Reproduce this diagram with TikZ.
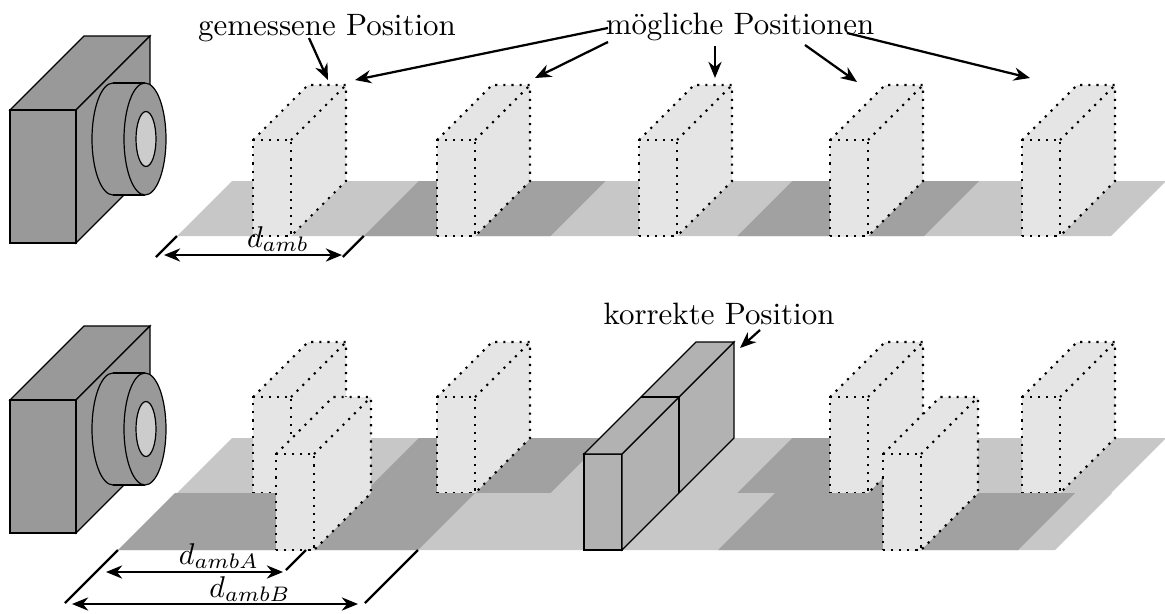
\documentclass[tikz,border=0pt]{standalone}
\usetikzlibrary{arrows.meta}

\definecolor{camgray}{gray}{0.6}
\definecolor{lensgray}{gray}{0.8}
\definecolor{floorlight}{gray}{0.78}
\definecolor{floordark}{gray}{0.63}
\definecolor{ghost}{gray}{0.9}
\definecolor{truebox}{gray}{0.7}

% camera body with lens; #1 = vertical offset
\newcommand\drawcamera[1]{%
  \begin{scope}[shift={(0,#1)}]
    \filldraw[fill=camgray] (10,110) -- (84,36) -- (150,36) -- (76,110) -- cycle;
    \filldraw[fill=camgray] (76,110) -- (150,36) -- (150,169) -- (76,243) -- cycle;
    \filldraw[fill=camgray] (10,110) rectangle (76,243);
    \filldraw[fill=camgray] (113,139) ellipse [x radius=21, y radius=56];
    \fill[camgray] (113,83) rectangle (145,195);
    \draw (113,83) -- (145,83) (113,195) -- (145,195);
    \filldraw[fill=camgray] (145,139) ellipse [x radius=21, y radius=56];
    \filldraw[fill=lensgray] (146,139) ellipse [x radius=10, y radius=27.5];
  \end{scope}}

% striped ground strip behind the line y=#1
\newcommand\backfloor[1]{%
  \fill[floorlight] (177,#1) -- (1111,#1) -- (1165,{#1-54}) -- (1165,{#1-55}) -- (232,{#1-55}) -- cycle;
  \foreach \a in {363.8,737.4}{%
    \fill[floordark] (\a,#1) -- ({\a+186.8},#1) -- ({\a+241.8},{#1-55}) -- ({\a+55},{#1-55}) -- cycle;}}

% dotted candidate block: #1 = left x, #2 = bottom y, #3 = depth
\newcommand\ghostblock[3]{%
  \fill[ghost] (#1,#2) -- ++(38,0) -- ++(#3,-#3) -- ++(0,-96) -- ++(-38,0) -- ++(-#3,#3) -- cycle;
  \draw[ghostedge] (#1,#2) -- ++(38,0) -- ++(0,-96) -- ++(-38,0) -- cycle;
  \draw[ghostedge] (#1,{#2-96}) -- ++(#3,-#3) -- ++(38,0) -- ++(0,96) -- ++(-#3,#3);
  \draw[ghostedge] ({#1+38},{#2-96}) -- ++(#3,-#3);}

\begin{document}
\begin{tikzpicture}[x=0.3333pt,y=-0.3333pt,
  ghostedge/.style={line width=0.7pt,dotted},
  pointer/.style={-{Stealth[length=5.4pt,width=4.4pt]},line width=0.75pt},
  measure/.style={{Stealth[length=5.4pt,width=4.4pt]}-{Stealth[length=5.4pt,width=4.4pt]},line width=0.75pt},
  dimtick/.style={line width=0.75pt},
  lbl/.style={inner sep=0pt,anchor=base,font=\fontsize{10.3}{12}\selectfont}]
\useasboundingbox (0,0) rectangle (1165,613);

% ---------- upper scene ----------
\drawcamera{0}
\backfloor{236}
\foreach \x in {253,437,639,830,1022}{\ghostblock{\x}{236}{55}}

\node[lbl] (gem) at (327,35) {gemessene Position};
\node[lbl] (moeg) at (740,34) {mögliche Positionen};
\coordinate (gemS) at (309,38);  \coordinate (gemT) at (328,80);
\coordinate (m1S) at (608,28);   \coordinate (m1T) at (355,80);
\coordinate (m2S) at (608,42);   \coordinate (m2T) at (535,78);
\coordinate (m3S) at (715,46);   \coordinate (m3T) at (715,78);
\coordinate (m4S) at (805,45);   \coordinate (m4T) at (857,82);
\coordinate (m5S) at (847,33);   \coordinate (m5T) at (1030,78);
\draw[pointer] (gemS) -- (gemT);
\foreach \i in {1,...,5}{\draw[pointer] (m\i S) -- (m\i T);}

% ambiguity distance
\coordinate (a0) at (177,236);  \coordinate (a0e) at (156,257);
\coordinate (a1) at (363.8,236); \coordinate (a1e) at (342.8,257);
\draw[dimtick] (a0) -- (a0e);
\draw[dimtick] (a1) -- (a1e);
\coordinate (da0) at (164,255); \coordinate (da1) at (342,255);
\draw[measure] (da0) -- (da1);
\node[lbl] (damb) at (278,247) {$d_{amb}$};

% ---------- lower scene ----------
\drawcamera{290}
\backfloor{493}
\foreach \x in {253,437,830,1022}{\ghostblock{\x}{493}{55}}

% front strip
\fill[floorlight] (118,550) -- (1055,550) -- (1112,493) -- (175,493) -- cycle;
\fill[floordark] (118,550) -- (418,550) -- (475,493) -- (175,493) -- cycle;
\fill[floordark] (718,550) -- (1018,550) -- (1075,493) -- (775,493) -- cycle;

\ghostblock{276}{550}{57}
\ghostblock{883}{550}{57}

% measured block at its true place
\filldraw[fill=truebox] (584,550) rectangle ++(38,-96);
\filldraw[fill=truebox] (622,550) -- ++(112,-112) -- ++(0,-96) -- ++(-112,112) -- cycle;
\filldraw[fill=truebox] (584,454) -- ++(112,-112) -- ++(38,0) -- ++(-112,112) -- cycle;
\draw (679,493) -- ++(0,-96) -- ++(-38,0);

\node[lbl] (korr) at (719,324) {korrekte Position};
\coordinate (kS) at (760,330); \coordinate (kT) at (740,348);
\draw[pointer] (kS) -- (kT);

% two ambiguity distances
\coordinate (b0) at (118,550);  \coordinate (b0e) at (65,603);
\coordinate (bA) at (306,550);  \coordinate (bAe) at (286,570);
\coordinate (bB) at (418,550);  \coordinate (bBe) at (365,603);
\draw[dimtick] (b0) -- (b0e);
\draw[dimtick] (bA) -- (bAe);
\draw[dimtick] (bB) -- (bBe);
\coordinate (dA0) at (106,572); \coordinate (dA1) at (283,572);
\coordinate (dB0) at (72,604);  \coordinate (dB1) at (358,604);
\draw[measure] (dA0) -- (dA1);
\draw[measure] (dB0) -- (dB1);
\node[lbl] (dambA) at (219,564) {$d_{ambA}$};
\node[lbl] (dambB) at (250,597) {$d_{ambB}$};
\end{tikzpicture}
\end{document}
